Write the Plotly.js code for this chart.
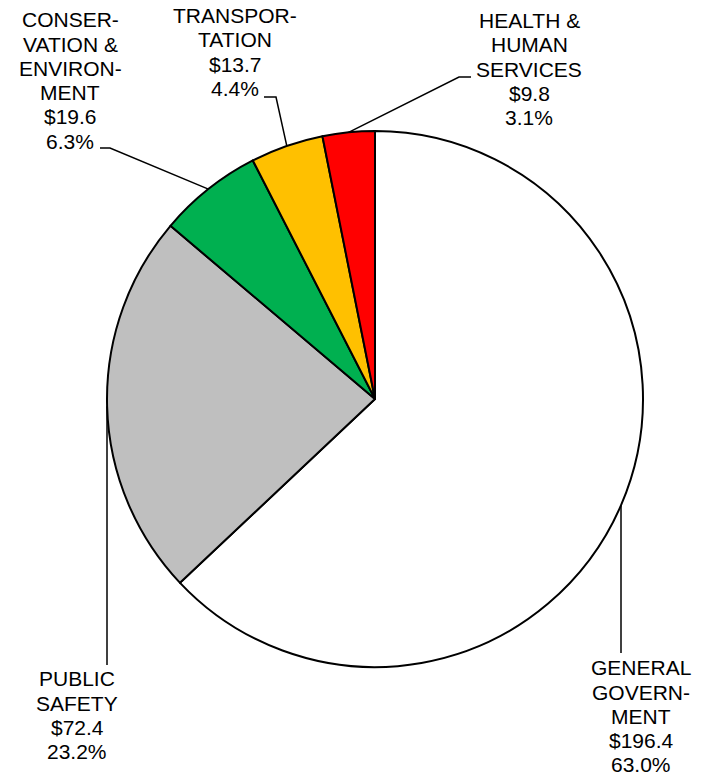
<!DOCTYPE html>
<html>
<head>
<meta charset="utf-8">
<script src="https://cdn.plot.ly/plotly-3.0.1.min.js"></script>
<style>html,body{margin:0;padding:0;background:#fff;}#chart{width:703px;height:778px;}</style>
</head>
<body>
<div id="chart"></div>
<script>
// ---- data ----
var categories = ["GENERAL GOVERNMENT", "PUBLIC SAFETY", "CONSERVATION & ENVIRONMENT", "TRANSPORTATION", "HEALTH & HUMAN SERVICES"];
var labelLines = [
  ["GENERAL", "GOVERN-", "MENT"],
  ["PUBLIC", "SAFETY"],
  ["CONSER-", "VATION &", "ENVIRON-", "MENT"],
  ["TRANSPOR-", "TATION"],
  ["HEALTH &", "HUMAN", "SERVICES"]
];
var values = [196.4, 72.4, 19.6, 13.7, 9.8];
var colors = ["#ffffff", "#bfbfbf", "#00b050", "#ffc000", "#ff0000"];

// ---- layout geometry (pixels) ----
var W = 703, H = 778;
var CX = 375, CY = 399, R = 268;
// label block: center x, first baseline y
var labelPos = [[641, 675], [77, 686], [70, 27], [235, 23], [529, 28]];
var lineGap = 24.3;
// leader line bend/end points (after the slice attach point)
var leaderPts = [
  [[621, 653]],
  [[107, 665]],
  [[110, 148], [100, 148]],
  [[276, 97], [264, 97]],
  [[459, 77], [471, 77]]
];

function px(x) { return x / W; }
function py(y) { return 1 - y / H; }

var total = values.reduce(function (a, b) { return a + b; }, 0);

var annotations = [];
var shapes = [];
var cum = 0;
values.forEach(function (v, i) {
  var frac = v / total;
  var mid = cum + frac / 2;
  cum += frac;
  var th = mid * 2 * Math.PI;
  var ax = CX + R * Math.sin(th), ay = CY - R * Math.cos(th);
  if (i === 1) ax = leaderPts[i][0][0];
  if (i === 0) ax = leaderPts[i][0][0];
  var path = "M" + px(ax) + "," + py(ay);
  leaderPts[i].forEach(function (p) { path += " L" + px(p[0]) + "," + py(p[1]); });
  shapes.push({type: "path", xref: "paper", yref: "paper", path: path,
    line: {color: "#000", width: 1.5}});
  var lines = labelLines[i].concat(["$" + v.toFixed(1), (frac * 100).toFixed(1) + "%"]);
  lines.forEach(function (t, k) {
    var base = labelPos[i][1] + k * lineGap;
    annotations.push({text: t, xref: "paper", yref: "paper",
      x: px(labelPos[i][0]), y: py(base - 7.3), xanchor: "center", yanchor: "middle",
      showarrow: false, font: {family: "Liberation Sans, Arial, sans-serif", size: 21, color: "#000"}});
  });
});

var trace = {
  type: "pie",
  labels: categories,
  values: values,
  sort: false,
  direction: "clockwise",
  rotation: 0,
  textinfo: "none",
  hoverinfo: "label+value+percent",
  marker: {colors: colors, line: {color: "#000", width: 2}},
  domain: {x: [px(CX - R), px(CX + R)], y: [py(CY + R), py(CY - R)]}
};

var layout = {
  width: W, height: H,
  margin: {l: 0, r: 0, t: 0, b: 0},
  showlegend: false,
  paper_bgcolor: "#fff",
  annotations: annotations,
  shapes: shapes
};

Plotly.newPlot("chart", [trace], layout, {displayModeBar: false, staticPlot: true});
</script>
</body>
</html>
